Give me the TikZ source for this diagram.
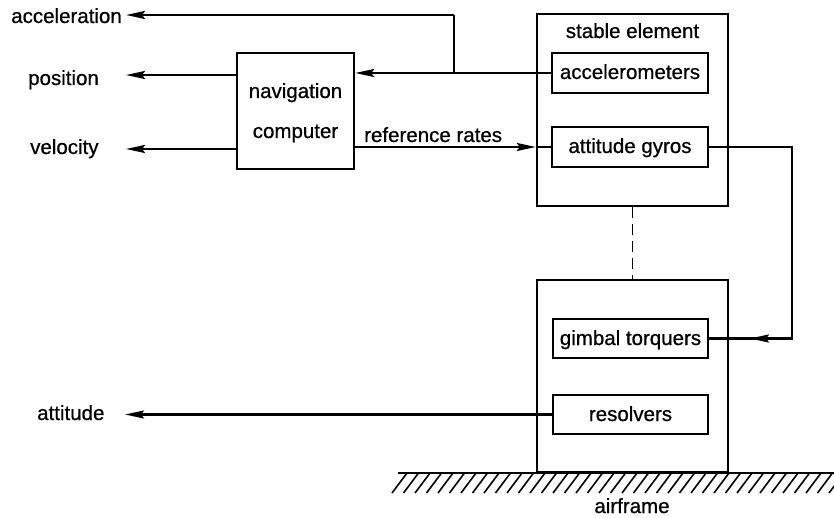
\documentclass[tikz,border=0pt]{standalone}
\usepackage{fontspec}
\setmainfont{Liberation Sans}
\newfontfamily\labfam{Liberation Sans}[FakeBold=0.7]
\usetikzlibrary{arrows.meta}
\newcommand{\labfont}{\labfam\fontsize{20.5}{24}\selectfont}
\begin{document}
\begin{tikzpicture}[x=1pt,y=-1pt,
  line width=2.4pt,
  txt/.style={font=\labfont, inner sep=0pt},
  blk/.style={draw, rectangle, inner sep=0pt, line width=2.4pt},
  arr/.style={-{Stealth[length=19pt,width=8pt,inset=3pt]}},
  hatchline/.style={line width=1.6pt}]
\useasboundingbox (0,0) rectangle (834,518);

% boxes
\node[blk, minimum width=117pt, minimum height=116pt] (nav) at (295.5,111) {};
\node[blk, minimum width=191pt, minimum height=192pt] (stab) at (632.5,110) {};
\node[blk, minimum width=156pt, minimum height=40pt] (acc) at (630,73) {};
\node[blk, minimum width=156pt, minimum height=40pt] (gyro) at (630,147) {};
\node[blk, minimum width=191pt, minimum height=192pt] (lower) at (632.5,376) {};
\node[blk, minimum width=155pt, minimum height=39pt] (gimb) at (630.5,338.5) {};
\node[blk, minimum width=155pt, minimum height=39pt] (reso) at (630.5,414.5) {};

% texts
\node[txt, anchor=base] (navt1) at (295.5,98) {navigation};
\node[txt, anchor=base] (navt2) at (295.5,138) {computer};
\node[txt, anchor=base] (stabt) at (632.5,38) {stable element};
\node[txt, anchor=base] (acct) at (630,79) {accelerometers};
\node[txt, anchor=base] (gyrot) at (630,153) {attitude gyros};
\node[txt, anchor=base] (gimbt) at (630.5,345) {gimbal torquers};
\node[txt, anchor=base] (resot) at (630.5,421) {resolvers};
\node[txt, anchor=base] (airt) at (632,513) {airframe};
\node[txt, anchor=base west] (reft) at (363,142) {reference rates};
\node[txt, anchor=base east] (accl) at (123,23) {acceleration};
\node[txt, anchor=base west] (posl) at (27,85) {position};
\node[txt, anchor=base west] (vell) at (29,154) {velocity};
\node[txt, anchor=base west] (attl) at (36,420) {attitude};

% coordinates
\coordinate (j) at (454,73);
\coordinate (jt) at (454,15);
\coordinate (acctip) at (126,15);
\coordinate (postip) at (126,75);
\coordinate (veltip) at (126,149);
\coordinate (atttip) at (125,414.5);
\coordinate (c1) at (792,147);
\coordinate (c2) at (792,338.5);
\coordinate (gtip) at (750,338.5);

% connectors
\draw[arr] (acc.west) -- (nav.east |- acc.west);
\draw (j) -- (jt);
\draw[arr] (jt) -- (acctip);
\draw[arr] (nav.west |- postip) -- (postip);
\draw[arr] (nav.west |- veltip) -- (veltip);
\draw[arr] (nav.east |- gyro.west) -- (stab.west |- gyro.west);
\draw (stab.west |- gyro.west) -- (gyro.west);
\draw (gyro.east) -- (c1) -- (c2) -- (gimb.east);
\draw[arr] (c2) -- (gtip);
\draw[line width=1.8pt, dash pattern=on 11pt off 6pt] (stab.south) -- (lower.north);
\draw[arr] (reso.west) -- (atttip);

% ground
\draw (398,473) -- (834,473);
\begin{scope}
\clip (380,474) rectangle (834,500);
\foreach \x in {407,418.5,...,850} {
  \draw[hatchline] (\x,473) -- (\x-15,493);
}
\end{scope}
\end{tikzpicture}
\end{document}
